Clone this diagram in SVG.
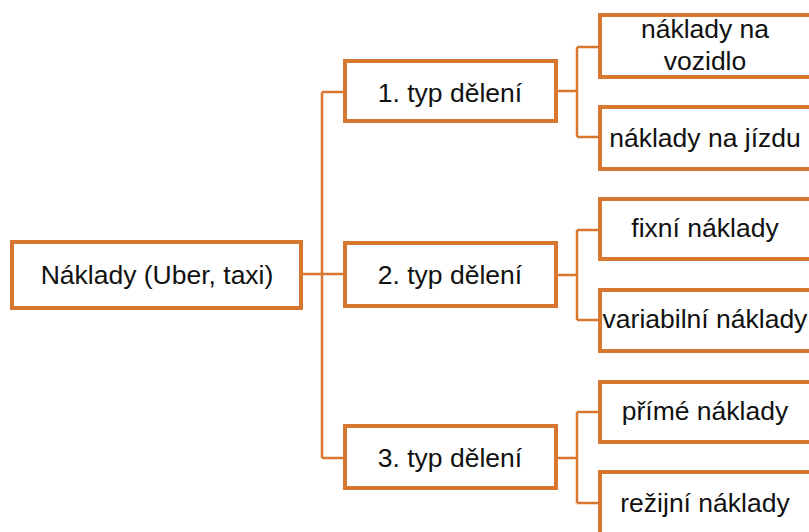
<svg xmlns="http://www.w3.org/2000/svg" width="809" height="532" viewBox="0 0 809 532">
<style>
.box{fill:#ffffff;stroke:#D9762F;stroke-width:4}
.ln{fill:none;stroke:#D9762F;stroke-width:2.5}
text{font-family:"Liberation Sans",Arial,sans-serif;font-size:26.5px;fill:#111111;text-anchor:middle}
</style>
<rect width="809" height="532" fill="#ffffff"/>
<g id="connectors">
<path class="ln" d="M303,274 H343 M322,92 V458 M322,92 H343 M322,458 H343"/>
<path class="ln" d="M558,91 H577 M577,47 V137 M577,47 H600 M577,137 H600"/>
<path class="ln" d="M558,275 H577 M577,230 V320 M577,230 H600 M577,320 H600"/>
<path class="ln" d="M558,458 H577 M577,412 V503 M577,412 H600 M577,503 H600"/>
</g>
<g id="root"><rect class="box" x="12" y="242" width="289" height="66"/><text x="157" y="284">Náklady (Uber, taxi)</text></g>
<g id="typ1"><rect class="box" x="345" y="61" width="211" height="60"/><text x="450" y="102">1. typ dělení</text></g>
<g id="typ2"><rect class="box" x="345" y="243" width="211" height="63"/><text x="450" y="284">2. typ dělení</text></g>
<g id="typ3"><rect class="box" x="345" y="426" width="211" height="62"/><text x="450" y="467">3. typ dělení</text></g>
<g id="leaf1"><rect class="box" x="600" y="15" width="214" height="62"/><text x="705" y="38">náklady na</text><text x="705" y="70">vozidlo</text></g>
<g id="leaf2"><rect class="box" x="600" y="107" width="214" height="62"/><text x="705" y="147">náklady na jízdu</text></g>
<g id="leaf3"><rect class="box" x="600" y="199" width="214" height="60"/><text x="705" y="237">fixní náklady</text></g>
<g id="leaf4"><rect class="box" x="600" y="290" width="214" height="61"/><text x="705" y="328">variabilní náklady</text></g>
<g id="leaf5"><rect class="box" x="600" y="382" width="214" height="60"/><text x="705" y="420">přímé náklady</text></g>
<g id="leaf6"><rect class="box" x="600" y="472" width="214" height="70"/><text x="705" y="512">režijní náklady</text></g>
</svg>
